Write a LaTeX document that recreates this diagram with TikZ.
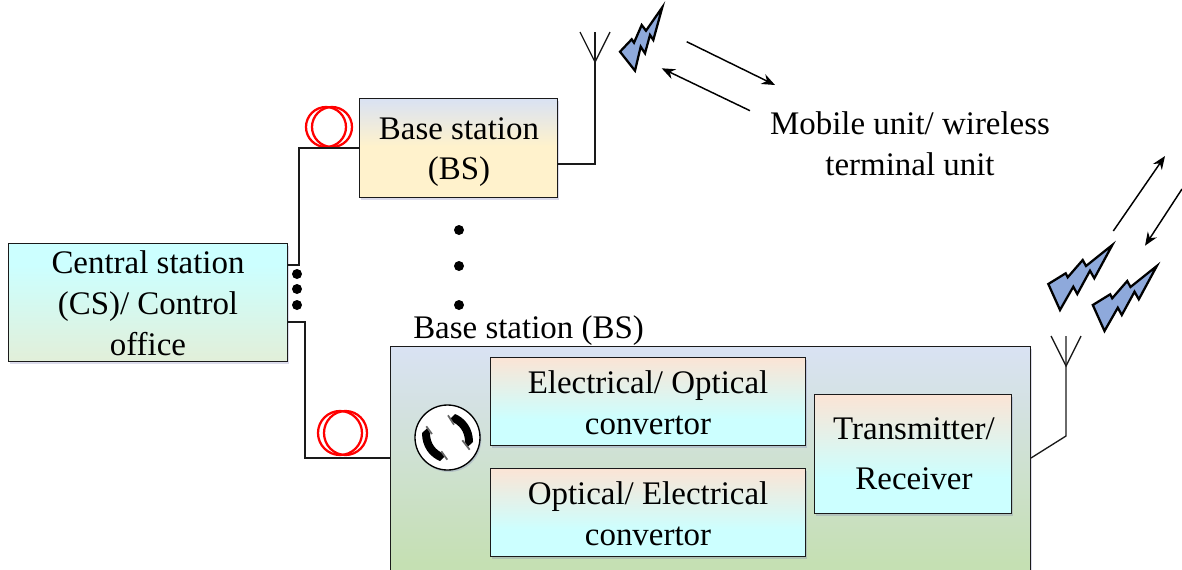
\documentclass[tikz,border=0pt]{standalone}
\usepackage{fontspec}
\setmainfont{Liberation Serif}
\usetikzlibrary{shadows,arrows.meta}
\definecolor{ln}{HTML}{1A1A1A}
\definecolor{boltblue}{HTML}{8EA9DB}
\pgfdeclareverticalshading{bsone}{100bp}{rgb(0bp)=(1,0.949,0.8); rgb(51bp)=(1,0.949,0.8); rgb(75bp)=(0.851,0.886,0.953); rgb(100bp)=(0.851,0.886,0.953)}
\pgfdeclareverticalshading{csbox}{100bp}{rgb(0bp)=(0.886,0.937,0.851); rgb(25bp)=(0.886,0.937,0.851); rgb(66bp)=(0.8,1,1); rgb(100bp)=(0.8,1,1)}
\pgfdeclareverticalshading{bstwo}{100bp}{rgb(0bp)=(0.773,0.878,0.702); rgb(27bp)=(0.773,0.878,0.702); rgb(75bp)=(0.851,0.886,0.953); rgb(100bp)=(0.851,0.886,0.953)}
\pgfdeclareverticalshading{inner}{100bp}{rgb(0bp)=(0.8,1,1); rgb(40bp)=(0.8,1,1); rgb(75bp)=(0.984,0.894,0.835); rgb(100bp)=(0.984,0.894,0.835)}
\tikzset{
  x=0.75pt,y=-0.75pt,
  softshadow/.style={drop shadow={shadow xshift=1pt,shadow yshift=-1.5pt,opacity=0.22,fill=blue!30!gray}},
  panel/.style={draw=ln,line width=1pt,inner sep=0pt,align=center,softshadow},
  wire/.style={draw=ln,line width=1.2pt},
  thinwire/.style={draw=ln,line width=1pt},
  label/.style={inner sep=0pt,align=center,font=\fontsize{24.7}{30.6}\selectfont},
  blackdot/.style={circle,fill=black,inner sep=0pt,minimum size=7.5pt},
  bolt/.style={draw=black,fill=boltblue,line width=1.7pt,line join=miter},
  coil/.style={draw=red,line width=1.7pt},
  arrowln/.style={draw=black,line width=1.1pt,-{Stealth[length=10pt,width=8pt]}},
}
\begin{document}
\begin{tikzpicture}
\useasboundingbox (0,0) rectangle (1182,569);
\clip (0,0) rectangle (1182,569);
% boxes
\node[panel,shading=csbox,minimum width=279*0.75pt,minimum height=118*0.75pt,anchor=north west] (cs) at (8,243) {};
\node[label] (cstext) at (148,303) {Central station\\(CS)/ Control\\office};
\node[panel,shading=bsone,minimum width=198*0.75pt,minimum height=99*0.75pt,anchor=north west] (bsa) at (359,98) {};
\node[label] (bsatext) at (459,152) {Base station\\(BS)};
\node[panel,shading=bstwo,minimum width=640*0.75pt,minimum height=226*0.75pt,anchor=north west] (bsb) at (390,346) {};
\node[label,anchor=base west] (bsblabel) at (413,338) {Base station (BS)};
\node[panel,shading=inner,minimum width=315*0.75pt,minimum height=88*0.75pt,anchor=north west] (eo) at (490,357) {};
\node[label] (eotext) at (648,403) {Electrical/ Optical\\convertor};
\node[panel,shading=inner,minimum width=315*0.75pt,minimum height=88*0.75pt,anchor=north west] (oe) at (490,468) {};
\node[label] (oetext) at (648,514) {Optical/ Electrical\\convertor};
\node[panel,shading=inner,minimum width=197*0.75pt,minimum height=119*0.75pt,anchor=north west] (tr) at (814,394) {};
\node[label,font=\fontsize{24.7}{37.5}\selectfont] (trtext) at (914,454) {Transmitter/\\Receiver};
\node[label] (mobile) at (910,144) {Mobile unit/ wireless\\terminal unit};
% fibre coils
\coordinate (ca) at (326,127);
\coordinate (cb) at (332,127);
\draw[coil] (ca) ellipse (20 and 20);
\draw[coil] (cb) ellipse (20 and 20);
\coordinate (cc) at (340,433);
\coordinate (cd) at (345.5,433);
\draw[coil] (cc) ellipse (22 and 22);
\draw[coil] (cd) ellipse (21.5 and 22);
% connectors
\coordinate (a1) at (299,265);
\coordinate (a2) at (299,148);
\draw[wire] (288,265) -- (a1) -- (a2) -- (360,148);
\coordinate (b1) at (305,322);
\coordinate (b2) at (305,458);
\draw[wire] (288,322) -- (b1) -- (b2) -- (391,458);
% antenna 1
\coordinate (ant1) at (595,62);
\coordinate (ant1b) at (595,164);
\draw[thinwire] (558,164) -- (ant1b) -- (ant1) -- (595,32);
\draw[thinwire] (580,32) -- (ant1) -- (610,32);
% antenna 2
\coordinate (ant2) at (1066,366);
\coordinate (ant2b) at (1066,436);
\draw[thinwire] (1031,458) -- (ant2b) -- (ant2) -- (1066,336);
\draw[thinwire] (1051,336) -- (ant2) -- (1081,336);
% dots
\foreach \n/\px/\py in {d1/459/230,d2/459/266,d3/459/305,d4/297/274,d5/297/289,d6/297/305}
  \node[blackdot] (\n) at (\px,\py) {};
% bolts
\draw[bolt] (620,51.7) -- (631.7,39.3) -- (634,42.7) -- (641.7,25) -- (646,30.7) -- (662.3,7.3) -- (653.3,40) -- (650,35) -- (645,53.3) -- (640.7,46.7) -- (635,70.7) -- cycle;
\begin{scope}[shift={(1000,140)}]
\foreach \dx/\dy in {0/0,44.5/21}
\draw[bolt,shift={(\dx,\dy)}] (48.3,144) -- (65.7,133.3) -- (67.7,137.3) -- (82.7,120) -- (86,126) -- (112.3,105) -- (94.3,138.3) -- (90,130.7) -- (77.3,154) -- (73.3,146.7) -- (60,170) -- cycle;
\end{scope}
% arrows
\coordinate (w1) at (686.7,41.7);
\coordinate (w2) at (775,85);
\draw[arrowln] (w1) -- (w2);
\coordinate (w3) at (750,110.7);
\coordinate (w4) at (661.7,68.3);
\draw[arrowln] (w3) -- (w4);
\coordinate (w5) at (1113.3,231);
\coordinate (w6) at (1165,156);
\draw[arrowln] (w5) -- (w6);
\coordinate (w7) at (1182,189);
\coordinate (w8) at (1145,245.7);
\draw[arrowln] (w7) -- (w8);
% phone
\node[circle,draw=black,fill=white,line width=1pt,minimum size=48.75pt,inner sep=0pt,softshadow] (ph) at (447.5,437.5) {};
\fill[black] (427.5,428) -- (422,433) .. controls (422,447) and (430,457) .. (440,461) -- (445,456) -- (443,453.5) .. controls (436,450) and (430,444) .. (430,433) -- cycle;
\fill[black] (467.5,447) -- (473,442) .. controls (473,428) and (465,418) .. (455,414) -- (450,419) -- (452,421.5) .. controls (459,425) and (465,431) .. (465,442) -- cycle;
\draw[black!60,line width=1.3pt] (426.3,426.3) -- (432,434) (441.3,451.3) -- (447.3,459.7) (448,415.3) -- (454,424.7) (462.3,440.3) -- (469.7,449.7);
\end{tikzpicture}
\end{document}
